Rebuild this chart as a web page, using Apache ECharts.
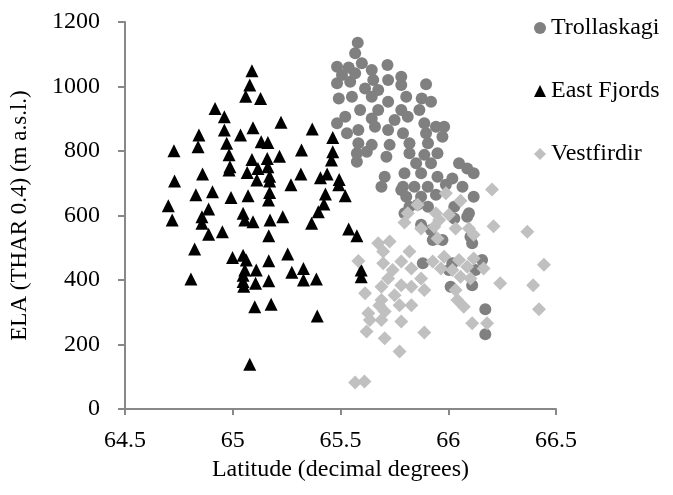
<!DOCTYPE html>
<html>
<head>
<meta charset="utf-8">
<script src="https://cdn.jsdelivr.net/npm/echarts@6/dist/echarts.min.js"></script>
<style>
html,body{margin:0;padding:0;background:#fff;}
#chart{width:673px;height:495px;}
</style>
</head>
<body>
<div id="chart"></div>
<script>
var seriesNames = ['Trollaskagi', 'East Fjords', 'Vestfirdir'];
var xTicks = [64.5, 65, 65.5, 66, 66.5];
var yTicks = [0, 200, 400, 600, 800, 1000, 1200];

var trollaskagi = [
[65.580,1136],[65.568,1103],[65.599,1072],[65.484,1061],[65.538,1059],[65.718,1067],[65.645,1051],
[65.507,1036],[65.568,1041],[65.484,1010],[65.545,1015],[65.652,1020],[65.721,1020],[65.782,1030],
[65.782,1005],[65.897,1007],[65.614,994],[65.675,989],[65.492,963],[65.553,968],[65.645,968],
[65.721,953],[65.805,968],[65.877,963],[65.920,953],[65.591,927],[65.675,927],[65.782,927],
[65.866,927],[65.522,906],[65.645,901],[65.751,896],[65.812,906],[65.484,886],[65.583,865],
[65.660,875],[65.721,865],[65.889,886],[65.943,875],[65.981,875],[65.530,855],[65.790,855],
[65.897,855],[65.973,844],[65.583,824],[65.645,819],[65.728,819],[65.820,824],[65.906,824],
[65.576,793],[65.622,798],[65.713,782],[65.820,793],[65.889,788],[65.950,793],[65.576,767],
[65.851,762],[65.920,762],[66.050,762],[66.088,746],[65.705,720],[65.797,731],[65.874,731],
[65.950,720],[66.019,715],[66.118,731],[65.690,689],[65.790,689],[65.843,689],[65.905,689],
[65.989,695],[66.066,689],[65.805,658],[65.874,658],[65.943,664],[66.118,658],[65.820,627],
[65.906,627],[66.028,627],[65.782,679],[65.797,607],[65.858,633],[65.874,571],[65.920,555],
[65.928,524],[65.973,524],[66.028,591],[66.088,596],[66.103,534],[66.111,514],[65.882,452],
[66.019,452],[66.003,431],[66.011,379],[66.111,384],[66.157,462],[66.126,431],[66.172,309],
[66.172,232],[66.096,607]
];

var eastFjords = [
[65.089,1049],[65.079,1005],[65.060,970],[65.129,963],[64.918,932],[64.961,906],[65.224,889],
[64.961,865],[65.094,872],[65.036,850],[65.369,868],[64.843,850],[64.839,813],[64.972,824],
[65.132,829],[65.163,826],[65.464,842],[64.727,801],[65.319,803],[64.983,788],[65.217,784],
[65.464,798],[65.089,774],[65.160,777],[65.458,772],[64.987,751],[65.117,746],[65.163,751],
[64.983,741],[65.067,733],[64.860,729],[65.316,729],[65.438,729],[65.171,722],[65.112,710],
[64.730,707],[65.407,717],[65.171,707],[65.494,712],[65.270,695],[65.492,695],[65.430,667],
[65.522,661],[64.829,664],[64.906,674],[64.992,656],[65.071,661],[65.171,671],[65.166,648],
[64.701,630],[65.423,636],[64.888,620],[64.719,586],[64.857,596],[65.048,607],[65.232,596],
[65.397,612],[64.857,576],[65.056,586],[65.094,581],[65.173,586],[65.366,576],[64.888,542],
[64.952,550],[65.167,537],[65.538,558],[65.576,537],[64.823,496],[64.999,470],[65.048,477],
[65.063,462],[65.167,460],[65.255,481],[65.109,431],[65.056,431],[65.274,424],[65.328,436],
[64.806,403],[65.048,415],[65.048,395],[65.051,381],[65.106,390],[65.167,398],[65.328,400],
[65.388,403],[65.102,317],[65.178,325],[65.392,288],[65.079,139],[65.596,431],[65.596,410]
];

var vestfirdir = [
[66.203,681],[65.989,669],[66.057,646],[65.858,633],[65.812,607],[65.797,578],[65.874,560],
[65.943,607],[65.958,586],[66.003,602],[65.935,565],[66.034,560],[66.096,560],[66.118,540],
[65.950,529],[66.210,567],[65.675,514],[65.728,519],[65.698,488],[65.820,488],[65.583,459],
[65.782,457],[65.698,452],[65.928,457],[65.981,472],[66.050,462],[66.118,467],[66.164,436],
[65.742,431],[65.829,436],[65.966,436],[66.019,431],[66.088,441],[65.721,405],[65.874,405],
[66.057,410],[66.103,405],[66.241,390],[65.690,379],[65.782,384],[65.829,379],[65.889,369],
[66.034,369],[65.614,359],[65.751,353],[65.690,338],[65.774,322],[65.829,322],[66.042,338],
[65.629,297],[65.705,302],[65.636,276],[65.782,271],[65.690,276],[66.111,266],[66.180,266],
[66.072,317],[66.367,550],[66.444,447],[66.394,384],[66.421,309],[65.621,240],[65.705,219],
[65.889,237],[65.774,178],[65.568,82],[65.611,85],[65.680,321]
];

var FONT = 'Liberation Serif';
var chart = echarts.init(document.getElementById('chart'), null, {renderer: 'canvas'});
chart.setOption({
  animation: false,
  backgroundColor: '#ffffff',
  textStyle: {fontFamily: FONT, color: '#000'},
  grid: {left: 120, right: 117, top: 22, bottom: 86, containLabel: false},
  legend: {
    orient: 'vertical',
    left: 529,
    top: 11,
    itemGap: 39,
    itemWidth: 12,
    itemHeight: 12,
    itemTextGap: 6,
    textStyle: {fontFamily: FONT, fontSize: 24, color: '#000', lineHeight: 24},
    data: seriesNames
  },
  xAxis: {
    type: 'value',
    min: xTicks[0], max: xTicks[xTicks.length - 1], interval: 0.5,
    name: 'Latitude (decimal degrees)',
    nameLocation: 'middle', nameGap: 49,
    nameTextStyle: {fontFamily: FONT, fontSize: 24, color: '#000'},
    axisLine: {show: true, lineStyle: {color: '#888', width: 2}},
    axisTick: {show: true, inside: false, length: 6, lineStyle: {color: '#888', width: 2}},
    axisLabel: {fontFamily: FONT, fontSize: 24, color: '#000', margin: 20,
      formatter: function (v) { return String(v); }},
    splitLine: {show: false}
  },
  yAxis: {
    type: 'value',
    min: yTicks[0], max: yTicks[yTicks.length - 1], interval: 200,
    name: 'ELA (THAR 0.4) (m a.s.l.)',
    nameLocation: 'middle', nameGap: 94, nameRotate: 90,
    nameTextStyle: {fontFamily: FONT, fontSize: 23, color: '#000'},
    axisLine: {show: true, lineStyle: {color: '#888', width: 2}},
    axisTick: {show: true, inside: false, length: 7, lineStyle: {color: '#888', width: 2}},
    axisLabel: {fontFamily: FONT, fontSize: 24, color: '#000', margin: 25,
      formatter: function (v) { return String(v); }},
    splitLine: {show: false}
  },
  series: [
    {name: seriesNames[0], type: 'scatter', symbol: 'circle', symbolSize: 12,
     itemStyle: {color: '#808080', opacity: 1}, data: trollaskagi, z: 2},
    {name: seriesNames[1], type: 'scatter', symbol: 'triangle', symbolSize: 13,
     itemStyle: {color: '#000000', opacity: 1}, data: eastFjords, z: 3},
    {name: seriesNames[2], type: 'scatter', symbol: 'diamond', symbolSize: 14,
     itemStyle: {color: '#c0c0c0', opacity: 1}, data: vestfirdir, z: 4}
  ]
});
</script>
</body>
</html>
